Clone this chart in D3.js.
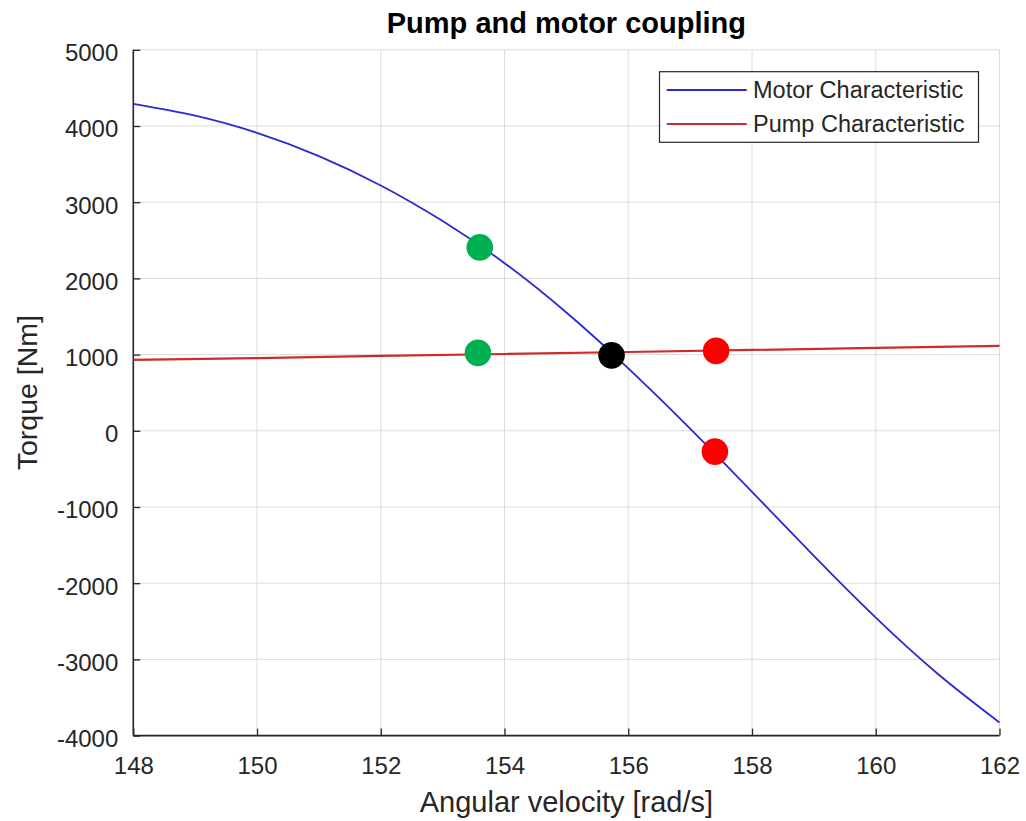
<!DOCTYPE html>
<html><head><meta charset="utf-8">
<script src="https://cdn.jsdelivr.net/npm/d3@7"></script>
<style>
body{margin:0;background:#fff;}
svg text{font-family:"Liberation Sans",Arial,Helvetica,sans-serif;}
</style>
</head><body>
<svg id="c" width="1026" height="821"></svg>
<script>
// ---- data ----
const motorOmega = [148,149,150,151,152,153,154,155,156,157,158,159,160,161,162];
const motorTorque = [4290,4136,3910,3605,3220,2752,2200,1552,820,30,-800,-1643,-2453,-3188,-3828];
const pumpOmega = [148,150,152,154,156,158,160,162];
const pumpTorque = [930,955,982,1008,1034,1061,1088,1115];
const pointOmega = [153.6,153.57,155.73,157.42,157.4];
const pointTorque = [2407,1023,990,1049,-273];
const pointColor = ["#00b050","#00b050","#000000","#ff0000","#ff0000"];
const xTicks = [148,150,152,154,156,158,160,162];
const yTicks = [-4000,-3000,-2000,-1000,0,1000,2000,3000,4000,5000];
const seriesNames = ["Motor Characteristic","Pump Characteristic"];
const seriesColors = ["#2a2ad0","#d02a2a"];

const svg = d3.select("#c");
const L=133.3, R=999.5, T=49.8, B=735.6;
const x = d3.scaleLinear().domain([148,162]).range([L,R]);
const y = d3.scaleLinear().domain([-4000,5000]).range([B,T]);
const axisCol = "#262626";

// grid
const g = svg.append("g");
g.selectAll(".gx").data(xTicks).join("line")
  .attr("x1",d=>x(d)).attr("x2",d=>x(d)).attr("y1",T).attr("y2",B)
  .attr("stroke","#dcdcdc").attr("stroke-width",1);
g.selectAll(".gy").data(yTicks).join("line")
  .attr("y1",d=>y(d)).attr("y2",d=>y(d)).attr("x1",L).attr("x2",R)
  .attr("stroke","#dcdcdc").attr("stroke-width",1);

// axes
const fmt = d => String(d);
const xa = svg.append("g").attr("transform",`translate(0,${B})`)
  .call(d3.axisBottom(x).tickValues(xTicks).tickSize(-7).tickPadding(20).tickFormat(fmt));
const ya = svg.append("g").attr("transform",`translate(${L},0)`)
  .call(d3.axisLeft(y).tickValues(yTicks).tickSize(-7).tickPadding(15).tickFormat(fmt));
[xa,ya].forEach(a=>{
  a.select(".domain").attr("stroke",axisCol).attr("stroke-width",1.6);
  a.selectAll(".tick line").attr("stroke",axisCol).attr("stroke-width",1.3);
  a.selectAll(".tick text").attr("fill",axisCol).style("font-size","24px")
   .style("font-family","'Liberation Sans',Arial,sans-serif");
});
xa.selectAll(".tick text").attr("dy","0.76em");
ya.selectAll(".tick text").attr("dy","0.45em");
xa.select(".domain").attr("d",`M${L},0H${R}`);
ya.select(".domain").attr("d",`M0,${B}V${T}`);

// lines
const line = d3.line().x(d=>x(d[0])).y(d=>y(d[1]));
svg.append("path").datum(pumpOmega.map((o,i)=>[o,pumpTorque[i]]))
  .attr("d",line.curve(d3.curveLinear)).attr("fill","none").attr("stroke",seriesColors[1]).attr("stroke-width",2.2);
svg.append("path").datum(motorOmega.map((o,i)=>[o,motorTorque[i]]))
  .attr("d",line.curve(d3.curveNatural)).attr("fill","none").attr("stroke",seriesColors[0]).attr("stroke-width",1.8);

// points
svg.selectAll(".pt").data(pointOmega).join("circle")
  .attr("cx",d=>x(d)).attr("cy",(d,i)=>y(pointTorque[i])).attr("r",13.3)
  .attr("fill",(d,i)=>pointColor[i]);

// legend
const lg = svg.append("g");
lg.append("rect").attr("x",659.5).attr("y",71.7).attr("width",319).attr("height",70.6)
  .attr("fill","#fff").attr("stroke",axisCol).attr("stroke-width",1.2);
seriesNames.forEach((n,i)=>{
  const yy = 90 + i*34;
  lg.append("line").attr("x1",666.7).attr("x2",746.7).attr("y1",yy).attr("y2",yy)
    .attr("stroke",seriesColors[i]).attr("stroke-width",1.8);
  lg.append("text").attr("x",753).attr("y",yy).attr("dy","0.36em")
    .attr("fill",axisCol).style("font-size","23.5px").text(n);
});

// title & labels
svg.append("text").attr("x",(L+R)/2).attr("y",33).attr("text-anchor","middle")
  .style("font-size","29px").style("font-weight","bold").attr("fill","#000").text("Pump and motor coupling");
svg.append("text").attr("x",(L+R)/2).attr("y",812).attr("text-anchor","middle")
  .style("font-size","29px").attr("fill",axisCol).text("Angular velocity [rad/s]");
svg.append("text").attr("transform",`translate(37,${(T+B)/2}) rotate(-90)`).attr("text-anchor","middle")
  .style("font-size","28.5px").attr("fill",axisCol).text("Torque [Nm]");
</script>
</body></html>
